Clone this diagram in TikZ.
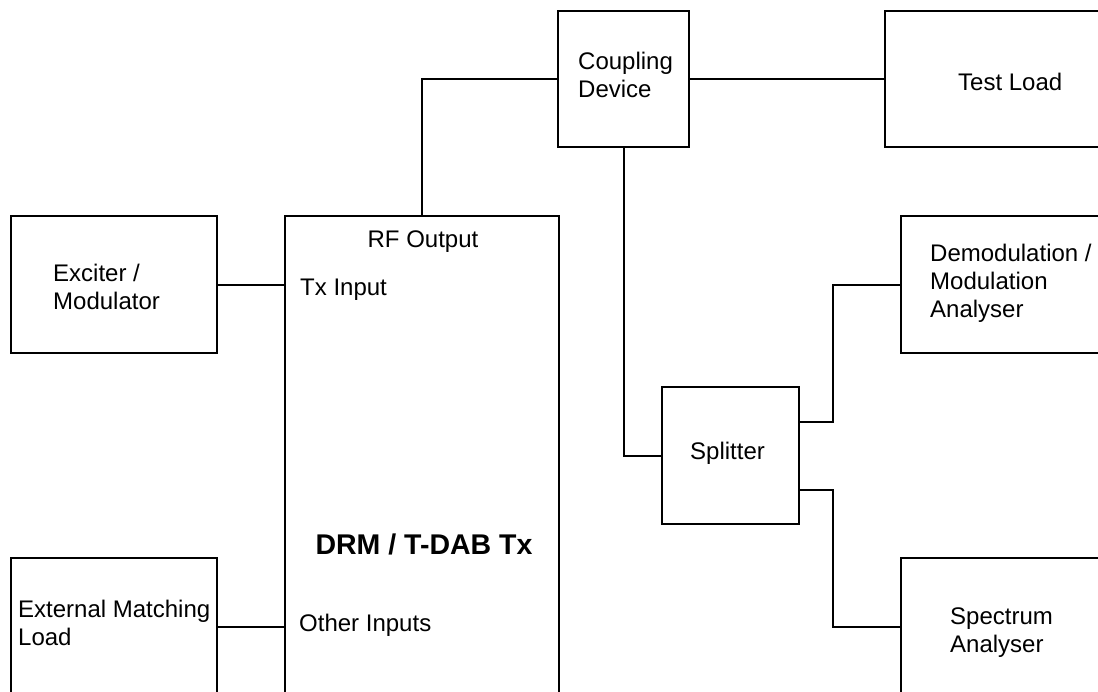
\documentclass[tikz,border=0pt]{standalone}
\usepackage{fontspec}
\setmainfont{Liberation Sans}
\usetikzlibrary{calc}
\begin{document}
\begin{tikzpicture}[x=1pt,y=-1pt,
  box/.style={draw, line width=2pt, inner sep=0pt},
  wire/.style={line width=2pt},
  lbl/.style={anchor=base west, inner sep=0pt, align=left, font=\fontsize{24}{28}\selectfont},
  title/.style={anchor=base, inner sep=0pt, font=\bfseries\fontsize{28.5}{32}\selectfont}]
\clip (0,0) rectangle (1098,691);
\fill[white] (0,0) rectangle (1098,691);
% boxes
\node[box, minimum width=206pt, minimum height=137pt] (exciter) at (114,284.5) {};
\node[box, minimum width=274pt, minimum height=584pt] (drm) at (422,508) {};
\node[box, minimum width=206pt, minimum height=137pt] (extload) at (114,626.5) {};
\node[box, minimum width=131pt, minimum height=136pt] (coupling) at (623.5,79) {};
\node[box, minimum width=255pt, minimum height=136pt] (testload) at (1012.5,79) {};
\node[box, minimum width=239pt, minimum height=137pt] (demod) at (1020.5,284.5) {};
\node[box, minimum width=137pt, minimum height=137pt] (splitter) at (730.5,455.5) {};
\node[box, minimum width=239pt, minimum height=137pt] (spectrum) at (1020.5,626.5) {};
% connectors
\draw[wire] (exciter.east) -- (exciter.east -| drm.west);
\draw[wire] (extload.east) -- (extload.east -| drm.west);
\draw[wire] (drm.north) |- (coupling.west);
\draw[wire] (coupling.east) -- (testload.west);
\draw[wire] (coupling.south) |- (splitter.west);
\coordinate (sp1) at (799,422);
\coordinate (sp2) at (799,490);
\draw[wire] (sp1) -- ++(34,0) |- (demod.west);
\draw[wire] (sp2) -- ++(34,0) |- (spectrum.west);
% labels (base anchor = last line's baseline)
\node[lbl] (tExc) at (53,309) {Exciter /\\Modulator};
\node[lbl] (tExt) at (18,645) {External Matching\\Load};
\node[lbl, anchor=base] (tRF) at (423,247) {RF Output};
\node[lbl] (tTx) at (300,295) {Tx Input};
\node[lbl] (tOther) at (299,631) {Other Inputs};
\node[title] (tDRM) at (424,554) {DRM / T-DAB Tx};
\node[lbl] (tCoup) at (578,97) {Coupling\\Device};
\node[lbl] (tTest) at (958,90) {Test Load};
\node[lbl] (tDemod) at (930,317) {Demodulation /\\Modulation\\Analyser};
\node[lbl] (tSplit) at (690,459) {Splitter};
\node[lbl] (tSpec) at (950,652) {Spectrum\\Analyser};
\end{tikzpicture}
\end{document}
